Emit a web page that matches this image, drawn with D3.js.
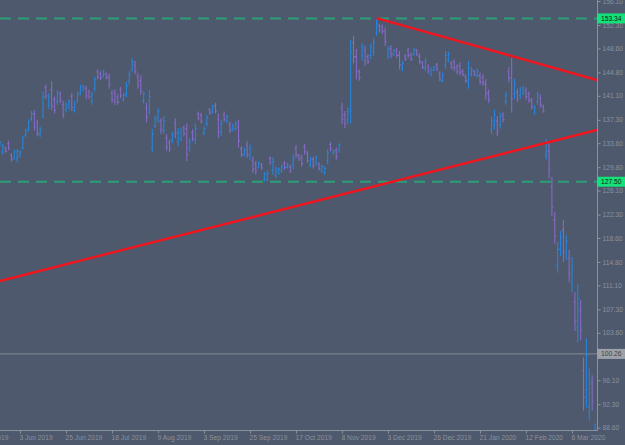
<!DOCTYPE html>
<html>
<head>
<meta charset="utf-8">
<script src="https://cdn.jsdelivr.net/npm/d3@7"></script>
<style>
  body { margin: 0; background: #4f596d; }
  svg { display: block; }
  text { font-family: "Liberation Sans", Arial, sans-serif; }
</style>
</head>
<body>
<svg width="625" height="445"></svg>
<script>
// daily OHLC, 22 May 2019 .. 18 Mar 2020
const highs = [133.9,133.5,133.0,134.0,132.0,132.6,132.7,132.5,134.8,135.9,
  137.3,138.7,138.8,137.3,136.2,141.8,142.9,141.5,143.4,141.0,
  142.0,141.8,140.3,140.1,140.6,141.6,140.3,141.8,142.9,142.9,
  142.7,142.1,141.7,144.1,145.3,145.0,145.2,144.8,144.6,142.0,
  142.1,141.3,142.5,141.6,143.3,145.0,147.0,146.6,144.8,144.3,
  141.8,140.0,142.0,135.8,138.0,139.2,137.6,137.9,135.0,134.2,
  135.4,137.5,136.0,136.1,136.4,136.7,134.4,135.8,136.7,138.6,
  138.4,136.3,138.1,139.2,139.7,140.0,138.3,137.3,138.6,138.1,
  137.0,136.7,137.1,137.3,133.1,132.9,133.9,133.4,131.5,130.8,
  130.7,130.5,129.1,129.3,131.5,131.4,129.9,129.8,130.2,130.8,
  130.5,130.2,131.8,133.3,131.9,131.8,133.5,132.4,131.5,131.5,
  131.7,130.6,130.2,129.9,132.7,133.8,132.6,132.9,133.6,140.0,
  138.7,139.3,150.0,150.6,148.5,145.3,149.4,149.0,147.7,149.4,
  150.2,153.3,152.5,152.4,151.9,149.0,149.1,148.5,148.7,148.2,
  146.6,147.7,148.7,147.9,148.7,148.5,147.8,146.6,147.1,146.1,
  145.6,145.8,146.3,145.0,144.8,148.2,148.1,146.6,146.9,146.1,
  146.4,145.3,144.5,146.6,145.6,145.2,145.4,144.8,144.5,143.7,
  142.1,137.8,138.9,137.9,138.4,138.5,141.7,145.6,147.1,143.8,
  142.2,142.5,142.7,142.4,141.8,140.8,139.6,141.8,141.3,139.7,
  134.3,133.7,128.3,122.7,118.0,119.7,121.5,119.1,116.7,115.6,
  110.0,111.3,108.8,99.7,102.7,98.0,96.9,89.3];
const lows = [133.1,131.8,132.1,132.5,130.7,131.0,130.6,131.3,132.6,134.6,
  135.5,137.1,135.6,134.7,134.6,137.5,140.6,139.0,138.8,138.3,
  139.7,140.0,137.6,138.5,138.9,138.7,138.4,140.0,141.2,141.8,
  140.6,140.6,139.7,141.8,143.7,143.6,144.0,143.7,142.2,140.0,
  139.6,139.7,140.7,140.2,140.9,142.9,144.9,144.5,142.2,141.2,
  139.9,136.9,138.1,132.2,136.0,136.8,135.1,135.0,132.4,132.2,
  133.6,134.4,133.1,133.9,134.7,130.8,132.3,133.9,133.4,137.2,
  136.7,134.9,136.3,138.1,138.3,138.3,134.4,134.7,137.0,136.8,
  135.2,135.5,135.6,132.9,131.4,131.5,131.3,131.0,128.9,128.6,
  129.6,129.4,127.5,127.5,130.2,128.6,128.1,128.6,128.9,129.4,
  129.6,128.9,129.4,131.3,130.8,129.9,131.8,130.5,129.8,129.6,
  130.1,129.3,128.9,128.6,130.3,132.3,131.8,131.0,132.1,136.6,
  136.0,136.7,136.7,146.2,143.7,143.5,146.7,145.8,146.1,146.9,
  147.4,150.6,151.1,150.9,149.0,146.9,147.1,147.4,147.1,145.3,
  145.0,146.6,147.1,146.6,147.4,147.4,146.1,145.3,145.0,144.6,
  144.2,145.0,145.0,143.4,143.2,145.3,146.4,145.3,145.0,144.5,
  144.3,144.2,143.2,142.2,144.1,144.2,144.0,142.9,142.7,140.5,
  140.0,135.0,135.8,134.7,135.9,136.9,139.7,143.2,138.4,140.6,
  140.1,140.6,141.2,140.5,140.0,138.9,138.1,139.7,139.2,138.4,
  131.0,128.0,122.0,117.7,113.1,115.8,114.8,115.1,111.6,110.0,
  103.9,102.1,102.4,91.3,91.8,89.7,91.3,85.0];
const opens = [133.3,132.2,132.8,133.6,131.7,131.4,131.2,131.6,132.9,134.9,
  135.8,137.4,138.2,136.8,135.0,137.9,142.4,139.6,142.0,140.5,
  140.2,141.4,139.7,138.9,139.3,141.0,138.8,140.4,141.5,142.1,
  142.3,141.7,140.2,142.3,144.9,144.6,144.2,144.5,144.1,141.5,
  141.5,140.9,142.1,140.5,141.4,143.4,145.3,146.1,144.2,143.5,
  140.3,139.2,138.9,132.8,136.4,137.3,137.1,135.6,134.4,133.7,
  134.0,136.8,133.8,134.4,136.0,135.9,132.8,135.3,134.1,138.2,
  138.0,135.2,136.7,138.9,138.6,139.6,137.3,135.3,138.1,137.1,
  136.5,135.8,135.9,136.2,132.7,131.8,133.2,131.6,130.9,130.3,
  129.8,130.2,127.9,127.9,131.2,129.3,128.5,128.9,129.2,130.4,
  129.8,129.8,130.0,132.8,131.6,131.3,133.0,131.9,130.2,131.0,
  130.5,130.3,129.2,128.9,130.9,133.4,132.0,132.4,132.4,139.1,
  138.0,137.3,139.0,149.5,147.3,144.9,147.4,148.2,147.3,147.5,
  148.1,151.2,152.2,152.0,151.2,147.4,148.6,147.7,148.3,147.5,
  145.4,147.4,148.3,147.6,147.7,148.2,147.3,146.3,145.5,145.7,
  144.5,145.2,146.0,144.6,143.5,145.9,146.8,146.3,146.4,145.7,
  145.9,145.0,144.2,143.2,144.5,145.0,144.3,144.3,144.0,142.9,
  141.6,135.7,136.5,137.1,136.5,138.1,140.2,144.9,144.0,141.4,
  141.7,141.1,141.5,141.9,141.4,140.3,138.5,140.2,140.8,139.4,
  131.8,132.3,126.7,121.5,114.3,116.8,119.8,116.1,115.4,111.4,
  108.5,104.4,107.2,97.6,94.5,91.8,95.5,86.0];
const closes = [133.7,133.1,132.3,132.8,131.0,132.2,132.3,132.2,134.4,135.6,
  137.0,138.3,136.2,135.2,135.8,141.0,141.1,140.9,139.5,138.8,
  141.5,140.4,138.1,139.7,140.2,139.2,139.8,141.3,142.5,142.6,
  141.1,141.0,141.3,143.6,144.1,143.9,144.9,143.9,142.8,140.5,
  140.2,140.1,141.1,141.2,142.7,144.5,146.5,145.0,142.8,141.9,
  141.4,137.7,141.0,135.0,137.6,138.6,135.7,137.2,133.0,132.7,
  135.0,135.2,135.3,135.6,135.1,131.8,133.9,134.3,135.9,137.5,
  137.1,135.9,137.7,138.4,139.4,138.7,135.4,136.7,137.4,137.8,
  135.7,136.4,136.7,134.0,131.8,132.5,131.9,132.8,129.5,129.2,
  130.4,129.7,128.7,128.8,130.5,130.7,129.5,129.5,129.9,129.8,
  130.2,129.2,131.2,131.8,131.1,130.4,132.2,130.9,131.1,130.0,
  131.3,129.6,129.9,129.6,132.1,132.7,132.4,131.5,133.3,137.4,
  136.7,138.6,148.0,147.3,144.9,144.0,148.7,146.6,146.5,148.8,
  149.5,152.5,151.5,151.3,149.7,148.5,147.6,148.2,147.5,146.0,
  146.2,146.9,147.5,146.9,148.4,147.7,146.5,145.6,146.6,144.9,
  145.2,145.6,145.3,143.8,144.4,147.5,147.7,145.6,145.5,144.9,
  144.8,144.5,143.5,145.6,145.2,144.5,145.0,143.3,143.2,141.3,
  140.5,137.1,138.1,135.5,137.8,137.3,141.2,143.8,140.6,143.0,
  140.6,142.1,142.3,141.0,140.5,139.4,139.2,141.3,139.7,138.7,
  133.5,129.4,123.5,118.9,116.8,118.7,116.5,118.1,112.9,114.2,
  105.4,109.0,104.0,93.4,100.0,95.9,92.7,88.2];

// time axis labels, every 16th bar
const tickBars = [-9, 7, 23, 39, 55, 71, 87, 103, 119, 135, 151, 167, 183, 199];
const tickLabels = ["9 May 2019", "3 Jun 2019", "25 Jun 2019", "18 Jul 2019", "9 Aug 2019",
  "3 Sep 2019", "25 Sep 2019", "17 Oct 2019", "8 Nov 2019", "3 Dec 2019",
  "26 Dec 2019", "21 Jan 2020", "12 Feb 2020", "6 Mar 2020"];
const priceTicks = [156.10, 152.30, 148.60, 144.80, 141.10, 137.30, 133.60, 129.80, 126.10,
  122.30, 118.60, 114.80, 111.10, 107.30, 103.60, 99.80, 96.10, 92.30, 88.60];

const levels = [153.34, 127.50];   // green dashed levels
const markPrice = 100.26;          // grey horizontal line
// trend lines: [barIndex, price] pairs
const supportLine = [[0, 111.8], [207.7, 135.7]];
const resistLine = [[131, 153.4], [207.7, 143.6]];

const upColor = "#2288e6", downColor = "#8c6bd0", axisColor = "#8b919b";
const plotW = 597, plotH = 431;

const svg = d3.select("svg");
svg.append("rect").attr("width", 625).attr("height", 445).attr("fill", "#4f596d");

const x = d3.scaleLinear().domain([0, 208]).range([-0.1, 597.9]);
const y = d3.scaleLinear().domain([88.6, 156.1]).range([427.6, 1.0]);

svg.append("clipPath").attr("id", "plot")
  .append("rect").attr("width", plotW).attr("height", plotH);

const plot = svg.append("g").attr("clip-path", "url(#plot)");

// horizontal levels
plot.selectAll("line.level")
  .data(levels)
  .join("line")
  .attr("class", "level")
  .attr("x1", 0).attr("x2", plotW)
  .attr("y1", d => y(d)).attr("y2", d => y(d))
  .attr("stroke", "#2b9f78")
  .attr("stroke-width", 2)
  .attr("stroke-dasharray", "11,7");

plot.append("line")
  .attr("x1", 0).attr("x2", plotW)
  .attr("y1", y(markPrice)).attr("y2", y(markPrice))
  .attr("stroke", "#858b95")
  .attr("stroke-width", 1);

// bars
const bars = d3.range(highs.length);
plot.selectAll("path.bar")
  .data(bars)
  .join("path")
  .attr("class", "bar")
  .attr("d", i => {
    const cx = x(i);
    return `M${cx},${y(highs[i])}V${y(lows[i])}` +
      `M${cx - 1.4},${y(opens[i])}H${cx}` +
      `M${cx},${y(closes[i])}H${cx + 1.4}`;
  })
  .attr("fill", "none")
  .attr("stroke", i => closes[i] >= opens[i] ? upColor : downColor)
  .attr("stroke-width", 1.1)
  .attr("stroke-opacity", 0.9);

// trend lines
const tl = d3.line().x(d => x(d[0])).y(d => y(d[1]));
plot.selectAll("path.trend")
  .data([supportLine, resistLine])
  .join("path")
  .attr("class", "trend")
  .attr("d", tl)
  .attr("fill", "none")
  .attr("stroke", "#f2141c")
  .attr("stroke-width", 2.4);

// price axis
const yAxis = d3.axisRight(y).tickValues(priceTicks)
  .tickFormat(d3.format(".2f")).tickSize(3).tickPadding(2);
const yG = svg.append("g").attr("transform", `translate(${plotW + 0.5},0)`).call(yAxis);
yG.select(".domain").attr("d", `M0,0V${plotH}`).attr("stroke", axisColor);
yG.selectAll(".tick line").attr("stroke", axisColor);
yG.selectAll(".tick text").attr("fill", axisColor).attr("font-size", 6.7);

// time axis
const xAxis = d3.axisBottom(x).tickValues(tickBars)
  .tickFormat((d, k) => tickLabels[k]).tickSize(3).tickSizeOuter(0).tickPadding(2);
const xG = svg.append("g").attr("transform", `translate(0,${plotH - 0.5})`).call(xAxis);
xG.select(".domain").attr("d", `M0,0H${plotW}`).attr("stroke", axisColor);
xG.selectAll(".tick line").attr("stroke", axisColor);
xG.selectAll(".tick text").attr("fill", axisColor).attr("font-size", 6.7)
  .attr("text-anchor", "start").attr("x", -1);

// price labels on the axis
const tags = [
  { v: levels[0], fill: "#16e07a", text: "#0b1a12" },
  { v: levels[1], fill: "#16e07a", text: "#0b1a12" },
  { v: markPrice, fill: "#9ca1a9", text: "#3d424c" }
];
const tagG = svg.selectAll("g.tag").data(tags).join("g")
  .attr("class", "tag")
  .attr("transform", d => `translate(${plotW},${y(d.v)})`);
tagG.append("rect")
  .attr("x", 0).attr("y", -5).attr("width", 28).attr("height", 10)
  .attr("fill", d => d.fill);
tagG.append("text")
  .attr("x", 4).attr("dy", "0.35em")
  .attr("font-size", 6.7)
  .attr("fill", d => d.text)
  .text(d => d3.format(".2f")(d.v));
</script>
</body>
</html>
